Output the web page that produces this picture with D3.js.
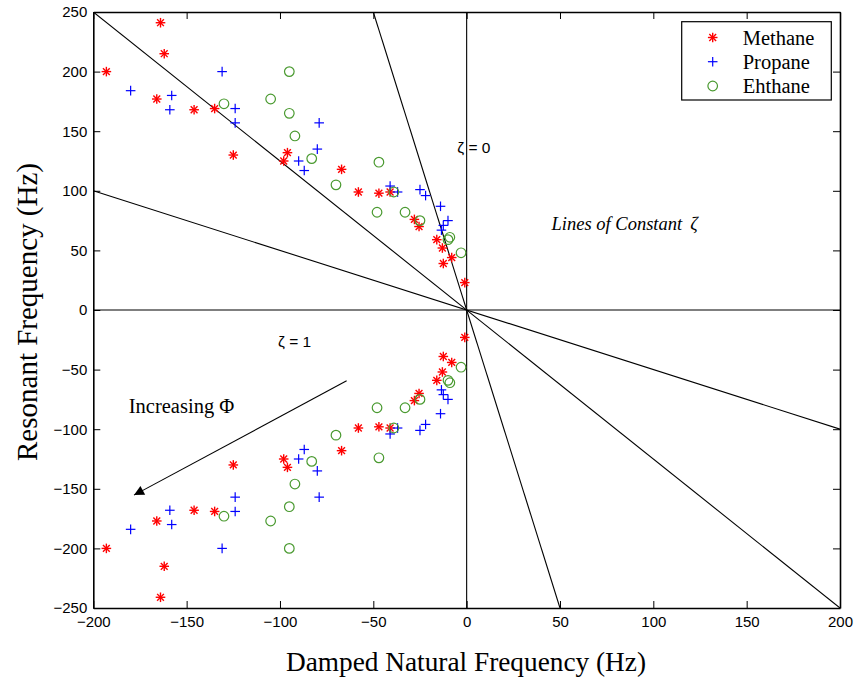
<!DOCTYPE html>
<html>
<head>
<meta charset="utf-8">
<script src="https://cdn.jsdelivr.net/npm/d3@7"></script>
<style>
  html, body { margin: 0; padding: 0; background: #fff; }
  svg { display: block; }
</style>
</head>
<body>
<svg id="chart" width="854" height="679"></svg>
<script>
// ---------- data ----------
const xTicks = [-200, -150, -100, -50, 0, 50, 100, 150, 200];
const yTicks = [-250, -200, -150, -100, -50, 0, 50, 100, 150, 200, 250];

const methaneX = [-193, -164, -162, -166, -146, -135, -125, -98, -96, -67, -58, -47, -41, -28, -25.5, -16, -13, -8, -12.5, -1,
                  -193, -164, -162, -166, -146, -135, -125, -98, -96, -67, -58, -47, -41, -28, -25.5, -16, -13, -8, -12.5, -1];
const methaneY = [200, 241, 215, 177, 168, 169, 130, 125, 132, 118, 99, 98, 99, 76, 70, 59, 52, 44, 39, 23,
                  -200, -241, -215, -177, -168, -169, -130, -125, -132, -118, -99, -98, -99, -76, -70, -59, -52, -44, -39, -23];

const propaneX = [-180, -158, -159, -131, -124, -124, -79, -80, -90, -87, -41, -37, -25, -22, -14, -10, -12.5, -13.5,
                  -180, -158, -159, -131, -124, -124, -79, -80, -90, -87, -41, -37, -25, -22, -14, -10, -12.5, -13.5];
const propaneY = [184, 180, 168, 200, 169, 157, 157, 135, 125, 117, 104, 99, 101, 96, 87, 75, 71, 67,
                  -184, -180, -168, -200, -169, -157, -157, -135, -125, -117, -104, -99, -101, -96, -87, -75, -71, -67];

const ethaneX = [-130, -95, -105, -95, -92, -83, -70, -47, -39, -48, -33, -25, -10, -9, -3,
                 -130, -95, -105, -95, -92, -83, -70, -47, -39, -48, -33, -25, -10, -9, -3];
const ethaneY = [173, 200, 177, 165, 146, 127, 105, 124, 99, 82, 82, 75, 59, 61, 48,
                 -173, -200, -177, -165, -146, -127, -105, -124, -99, -82, -82, -75, -59, -61, -48];

// lines of constant damping ratio (x1, y1, x2, y2)
const zetaLineX1 = [-200, -200, -50, 0, -200];
const zetaLineY1 = [250, 100, 250, 250, 0];
const zetaLineX2 = [200, 200, 50, 0, 200];
const zetaLineY2 = [-250, -100, -250, -250, 0];

const seriesNames = ["Methane", "Propane", "Ehthane"];
const seriesColors = ["#ff0000", "#0000ff", "#4a9a30"];

// ---------- layout ----------
const svg = d3.select("#chart");
const L = 93.3, R = 840, T = 12, B = 608;
const x = d3.scaleLinear().domain([-200, 200]).range([L, R]);
const y = d3.scaleLinear().domain([-250, 250]).range([B, T]);

const tickFont = "'Liberation Sans', Arial, sans-serif";
const serif = "'Liberation Serif', 'Times New Roman', serif";

// clip
svg.append("defs").append("clipPath").attr("id", "clip")
  .append("rect").attr("x", L).attr("y", T).attr("width", R - L).attr("height", B - T);

// zeta lines
const lineG = svg.append("g").attr("clip-path", "url(#clip)");
zetaLineX1.forEach((d, i) => {
  lineG.append("line")
    .attr("x1", x(zetaLineX1[i])).attr("y1", y(zetaLineY1[i]))
    .attr("x2", x(zetaLineX2[i])).attr("y2", y(zetaLineY2[i]))
    .attr("stroke", "#000").attr("stroke-width", 1.1);
});

// axes
const axB = d3.axisBottom(x).tickValues(xTicks).tickSizeInner(-7).tickSizeOuter(0).tickPadding(8);
const axT = d3.axisTop(x).tickValues(xTicks).tickSizeInner(-7).tickSizeOuter(0).tickFormat("");
const axL = d3.axisLeft(y).tickValues(yTicks).tickSizeInner(-7).tickSizeOuter(0).tickPadding(6);
const axR = d3.axisRight(y).tickValues(yTicks).tickSizeInner(-7).tickSizeOuter(0).tickFormat("");

function styleAxis(g) {
  g.selectAll("path").attr("stroke", "#000").attr("stroke-width", 1.6);
  g.selectAll("line").attr("stroke", "#000").attr("stroke-width", 1);
  g.selectAll("text").attr("font-family", tickFont).attr("font-size", 15).attr("fill", "#000");
}
svg.append("g").attr("transform", `translate(0,${B})`).call(axB).call(styleAxis);
svg.append("g").attr("transform", `translate(0,${T})`).call(axT).call(styleAxis);
svg.append("g").attr("transform", `translate(${L},0)`).call(axL).call(styleAxis);
svg.append("g").attr("transform", `translate(${R},0)`).call(axR).call(styleAxis);

// markers
function star(g, cx, cy, color) {
  const a = 4.8, b = 3.4;
  const s = g.append("g").attr("stroke", color).attr("stroke-width", 1.4);
  s.append("line").attr("x1", cx - a).attr("x2", cx + a).attr("y1", cy).attr("y2", cy);
  s.append("line").attr("x1", cx).attr("x2", cx).attr("y1", cy - a).attr("y2", cy + a);
  s.append("line").attr("x1", cx - b).attr("x2", cx + b).attr("y1", cy - b).attr("y2", cy + b);
  s.append("line").attr("x1", cx - b).attr("x2", cx + b).attr("y1", cy + b).attr("y2", cy - b);
}
function plus(g, cx, cy, color) {
  const a = 4.8;
  const s = g.append("g").attr("stroke", color).attr("stroke-width", 1.2);
  s.append("line").attr("x1", cx - a).attr("x2", cx + a).attr("y1", cy).attr("y2", cy);
  s.append("line").attr("x1", cx).attr("x2", cx).attr("y1", cy - a).attr("y2", cy + a);
}
function circ(g, cx, cy, color) {
  g.append("circle").attr("cx", cx).attr("cy", cy).attr("r", 4.8)
    .attr("fill", "none").attr("stroke", color).attr("stroke-width", 1.2);
}

const ptsG = svg.append("g");
methaneX.forEach((d, i) => star(ptsG, x(methaneX[i]), y(methaneY[i]), seriesColors[0]));
propaneX.forEach((d, i) => plus(ptsG, x(propaneX[i]), y(propaneY[i]), seriesColors[1]));
ethaneX.forEach((d, i) => circ(ptsG, x(ethaneX[i]), y(ethaneY[i]), seriesColors[2]));

// annotations
svg.append("text").attr("x", x(-5)).attr("y", y(132)).attr("font-family", tickFont)
  .attr("font-size", 15.5).text("ζ = 0");
svg.append("text").attr("x", x(-101)).attr("y", y(-31)).attr("font-family", tickFont)
  .attr("font-size", 15.5).text("ζ = 1");
const lt = svg.append("text").attr("x", x(45.5)).attr("y", y(67)).attr("font-family", serif)
  .attr("font-style", "italic").attr("font-size", 18.5);
lt.append("tspan").text("Lines of Constant");
lt.append("tspan").attr("dx", 8).text("ζ");
svg.append("text").attr("x", x(-181)).attr("y", y(-86)).attr("font-family", serif)
  .attr("font-size", 20.5).text("Increasing Φ");

// arrow
svg.append("defs").append("marker").attr("id", "ah")
  .attr("viewBox", "0 0 10 10").attr("refX", 10).attr("refY", 5)
  .attr("markerWidth", 14).attr("markerHeight", 10).attr("markerUnits", "userSpaceOnUse")
  .attr("orient", "auto")
  .append("path").attr("d", "M0,0 L10,5 L0,10 Z").attr("fill", "#000");
svg.append("line")
  .attr("x1", x(-64.3)).attr("y1", y(-59.4))
  .attr("x2", x(-178.2)).attr("y2", y(-155.3))
  .attr("stroke", "#000").attr("stroke-width", 1.1).attr("marker-end", "url(#ah)");

// axis titles
svg.append("text").attr("x", 466).attr("y", 671).attr("text-anchor", "middle")
  .attr("font-family", serif).attr("font-size", 27.3).text("Damped Natural Frequency (Hz)");
svg.append("text").attr("transform", `translate(37,312) rotate(-90)`)
  .attr("text-anchor", "middle").attr("font-family", serif).attr("font-size", 29)
  .text("Resonant Frequency (Hz)");

// legend
const lg = svg.append("g");
lg.append("rect").attr("x", 681.7).attr("y", 21.7).attr("width", 149.6).attr("height", 78.3)
  .attr("fill", "#fff").attr("stroke", "#000").attr("stroke-width", 1.2);
const rowY = [37.5, 61.7, 86];
seriesNames.forEach((name, i) => {
  const cy = rowY[i];
  if (i === 0) star(lg, 712.7, cy, seriesColors[0]);
  if (i === 1) plus(lg, 712.7, cy, seriesColors[1]);
  if (i === 2) circ(lg, 712.7, cy, seriesColors[2]);
  lg.append("text").attr("x", 742.7).attr("y", cy + 7).attr("font-family", serif)
    .attr("font-size", 20.5).text(name);
});
</script>
</body>
</html>
